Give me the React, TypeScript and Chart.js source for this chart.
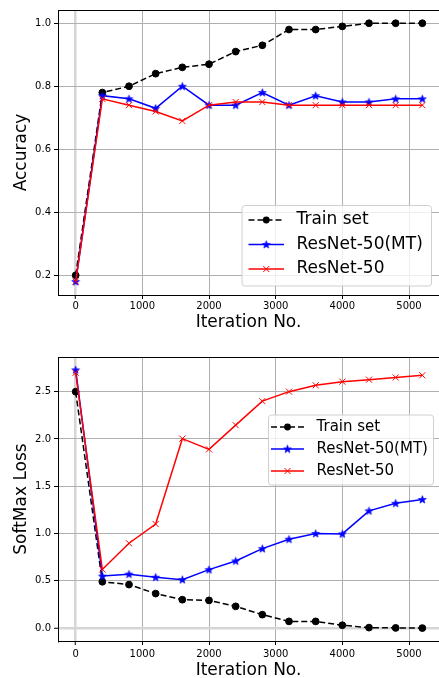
import React, { useEffect, useRef } from 'react';
import { Chart, registerables } from 'chart.js';

Chart.register(...registerables);
Chart.defaults.font.family = '"DejaVu Sans", sans-serif';

// ---------- data ----------
const iterations = [0, 400, 800, 1200, 1600, 2000, 2400, 2800, 3200, 3600, 4000, 4400, 4800, 5200];
const seriesNames = ['Train set', 'ResNet-50(MT)', 'ResNet-50'];

const accTrain = [0.2, 0.78, 0.8, 0.84, 0.86, 0.87, 0.91, 0.93, 0.98, 0.98, 0.99, 1.0, 1.0, 1.0];
const accMT = [0.18, 0.77, 0.76, 0.73, 0.8, 0.74, 0.74, 0.78, 0.74, 0.77, 0.75, 0.75, 0.76, 0.76];
const accRes = [0.18, 0.76, 0.74, 0.72, 0.69, 0.74, 0.75, 0.75, 0.74, 0.74, 0.74, 0.74, 0.74, 0.74];

const lossTrain = [2.5, 0.49, 0.46, 0.365, 0.3, 0.293, 0.23, 0.142, 0.071, 0.071, 0.03, 0.005, 0.002, 0.0];
const lossMT = [2.73, 0.55, 0.57, 0.537, 0.512, 0.618, 0.71, 0.84, 0.94, 1.0, 0.996, 1.24, 1.32, 1.36];
const lossRes = [2.7, 0.62, 0.897, 1.1, 2.003, 1.89, 2.146, 2.4, 2.5, 2.567, 2.606, 2.627, 2.65, 2.673];

const xTicks = [0, 1000, 2000, 3000, 4000, 5000];
const xTickLabels = ['0', '1000', '2000', '3000', '4000', '5000'];
const accTicks = [0.2, 0.4, 0.6, 0.8, 1.0];
const accTickLabels = ['0.2', '0.4', '0.6', '0.8', '1.0'];
const lossTicks = [0, 0.5, 1.0, 1.5, 2.0, 2.5];
const lossTickLabels = ['0.0', '0.5', '1.0', '1.5', '2.0', '2.5'];

const xTitle = 'Iteration No.';
const accTitle = 'Accuracy';
const lossTitle = 'SoftMax Loss';

// ---------- styling helpers ----------
function makeStar(color: string, size = 11, outer = 4.1, inner = 1.7) {
  const c = document.createElement('canvas');
  c.width = size;
  c.height = size;
  const g = c.getContext('2d')!;
  g.beginPath();
  for (let i = 0; i < 10; i++) {
    const r = i % 2 === 0 ? outer : inner;
    const a = -Math.PI / 2 + (i * Math.PI) / 5;
    const x = size / 2 + r * Math.cos(a);
    const y = size / 2 + 0.3 + r * Math.sin(a);
    if (i === 0) g.moveTo(x, y);
    else g.lineTo(x, y);
  }
  g.closePath();
  g.fillStyle = color;
  g.fill();
  g.strokeStyle = color;
  g.lineWidth = 0.7;
  g.stroke();
  return c;
}

function pts(ys: number[]) {
  return iterations.map((x, i) => ({ x, y: ys[i] }));
}

function makeDatasets(train: number[], mt: number[], res: number[], star: HTMLCanvasElement) {
  return [
    {
      label: seriesNames[0],
      data: pts(train),
      borderColor: '#000',
      backgroundColor: '#000',
      borderWidth: 1.5,
      borderDash: [6, 3],
      pointStyle: 'circle',
      pointRadius: 3.4,
      pointBackgroundColor: '#000',
      pointBorderColor: '#000',
      pointBorderWidth: 1,
      order: 3,
    },
    {
      label: seriesNames[1],
      data: pts(mt),
      borderColor: '#0000ff',
      backgroundColor: '#0000ff',
      borderWidth: 1.5,
      pointStyle: star,
      pointRadius: 4,
      order: 2,
    },
    {
      label: seriesNames[2],
      data: pts(res),
      borderColor: '#ff0000',
      backgroundColor: '#ff0000',
      borderWidth: 1.5,
      pointStyle: 'crossRot',
      pointRadius: 4.3,
      pointBorderColor: '#ff0000',
      pointBorderWidth: 1,
      order: 1,
    },
  ];
}

const topSpine = {
  id: 'topSpine',
  afterDatasetsDraw(chart: any) {
    const { ctx, chartArea } = chart;
    ctx.save();
    ctx.strokeStyle = '#000';
    ctx.lineWidth = 1;
    ctx.beginPath();
    ctx.moveTo(chartArea.left, Math.round(chartArea.top) + 0.5);
    ctx.lineTo(chartArea.right, Math.round(chartArea.top) + 0.5);
    ctx.stroke();
    ctx.restore();
  },
};

type LegendCfg = {
  box: { x: number; y: number; w: number; h: number };
  rows: number[];
  lineX0: number;
  lineX1: number;
  textX: number;
  fontSize: number;
};

function makeLegend(cfg: LegendCfg, star: HTMLCanvasElement) {
  return {
    id: 'customLegend',
    afterDraw(chart: any) {
      const { ctx } = chart;
      const { x, y, w, h } = cfg.box;
      const r = 3;
      ctx.save();
      ctx.beginPath();
      ctx.moveTo(x + r, y);
      ctx.lineTo(x + w - r, y);
      ctx.arcTo(x + w, y, x + w, y + r, r);
      ctx.lineTo(x + w, y + h - r);
      ctx.arcTo(x + w, y + h, x + w - r, y + h, r);
      ctx.lineTo(x + r, y + h);
      ctx.arcTo(x, y + h, x, y + h - r, r);
      ctx.lineTo(x, y + r);
      ctx.arcTo(x, y, x + r, y, r);
      ctx.closePath();
      ctx.fillStyle = 'rgba(255,255,255,0.8)';
      ctx.fill();
      ctx.strokeStyle = '#d0d0d0';
      ctx.lineWidth = 1;
      ctx.stroke();

      const ds = chart.data.datasets;
      const mx = (cfg.lineX0 + cfg.lineX1) / 2;
      ds.forEach((d: any, i: number) => {
        const ry = cfg.rows[i];
        ctx.save();
        ctx.strokeStyle = d.borderColor;
        ctx.lineWidth = 1.5;
        ctx.setLineDash(d.borderDash || []);
        ctx.beginPath();
        ctx.moveTo(cfg.lineX0, ry);
        ctx.lineTo(cfg.lineX1, ry);
        ctx.stroke();
        ctx.restore();
        // marker
        ctx.save();
        if (i === 0) {
          ctx.fillStyle = '#000';
          ctx.beginPath();
          ctx.arc(mx, ry, 3.4, 0, Math.PI * 2);
          ctx.fill();
        } else if (i === 1) {
          ctx.drawImage(star, mx - star.width / 2, ry - star.height / 2);
        } else {
          ctx.strokeStyle = d.borderColor;
          ctx.lineWidth = 1;
          const s = 3;
          ctx.beginPath();
          ctx.moveTo(mx - s, ry - s);
          ctx.lineTo(mx + s, ry + s);
          ctx.moveTo(mx - s, ry + s);
          ctx.lineTo(mx + s, ry - s);
          ctx.stroke();
        }
        ctx.restore();
        ctx.save();
        ctx.fillStyle = '#000';
        ctx.font = `${cfg.fontSize}px "DejaVu Sans", sans-serif`;
        ctx.textBaseline = 'middle';
        ctx.textAlign = 'left';
        ctx.fillText(d.label, cfg.textX, ry);
        ctx.restore();
      });
      ctx.restore();
    },
  };
}

type ChartCfg = {
  train: number[];
  mt: number[];
  res: number[];
  yMin: number;
  yMax: number;
  yTicks: number[];
  yTickLabels: string[];
  yTitle: string;
  padTop: number;
  xAxisHeight: number;
  xTickPad: number;
  xTitlePad: number;
  legend: LegendCfg;
};

function buildConfig(c: ChartCfg): any {
  const star = makeStar('#0000ff');
  const gridColor = (ctx: any) => (ctx.tick && ctx.tick.value === 0 ? '#d6d6d6' : '#b0b0b0');
  const gridWidth = (ctx: any) => (ctx.tick && ctx.tick.value === 0 ? 2.5 : 1);
  return {
    type: 'line',
    data: { datasets: makeDatasets(c.train, c.mt, c.res, star) },
    options: {
      responsive: false,
      animation: false,
      devicePixelRatio: 1,
      layout: { autoPadding: false, padding: { top: c.padTop, left: 0, right: 0, bottom: 0 } },
      plugins: { legend: { display: false }, tooltip: { enabled: false } },
      scales: {
        x: {
          type: 'linear',
          position: 'bottom',
          min: -265,
          max: 5450,
          afterBuildTicks: (a: any) => {
            a.ticks = xTicks.map((v) => ({ value: v }));
          },
          afterFit: (s: any) => {
            s.height = c.xAxisHeight;
            s.paddingLeft = 0;
            s.paddingRight = 0;
          },
          ticks: {
            callback: (_v: any, i: number) => xTickLabels[i],
            font: { size: 10 },
            color: '#000',
            padding: c.xTickPad,
            maxRotation: 0,
            autoSkip: false,
          },
          grid: {
            color: gridColor,
            lineWidth: gridWidth,
            tickColor: '#000',
            tickLength: 4,
            tickWidth: 1,
          },
          border: { color: '#000', width: 1 },
          title: {
            display: true,
            text: xTitle,
            font: { size: 17 },
            color: '#000',
            padding: { top: 0, bottom: c.xTitlePad },
          },
        },
        y: {
          type: 'linear',
          position: 'left',
          min: c.yMin,
          max: c.yMax,
          afterBuildTicks: (a: any) => {
            a.ticks = c.yTicks.map((v) => ({ value: v }));
          },
          afterFit: (s: any) => {
            s.width = 58;
            s.paddingTop = 0;
            s.paddingBottom = 0;
          },
          ticks: {
            callback: (_v: any, i: number) => c.yTickLabels[i],
            font: { size: 10 },
            color: '#000',
            padding: 3,
            autoSkip: false,
          },
          grid: {
            color: gridColor,
            lineWidth: gridWidth,
            tickColor: '#000',
            tickLength: 4,
            tickWidth: 1,
          },
          border: { color: '#000', width: 1 },
          title: {
            display: true,
            text: c.yTitle,
            font: { size: 17 },
            color: '#000',
            padding: { top: 11, bottom: 0 },
          },
        },
      },
    },
    plugins: [topSpine, makeLegend(c.legend, star)],
  };
}

function ChartCanvas({ cfg, top, height }: { cfg: ChartCfg; top: number; height: number }) {
  const ref = useRef<HTMLCanvasElement>(null);
  useEffect(() => {
    const chart = new Chart(ref.current!, buildConfig(cfg));
    return () => chart.destroy();
  }, []);
  return (
    <canvas
      ref={ref}
      width={439}
      height={height}
      style={{ position: 'absolute', left: 0, top, width: 439, height }}
    />
  );
}

const accCfg: ChartCfg = {
  train: accTrain,
  mt: accMT,
  res: accRes,
  yMin: 0.1375,
  yMax: 1.042,
  yTicks: accTicks,
  yTickLabels: accTickLabels,
  yTitle: accTitle,
  padTop: 10,
  xAxisHeight: 44,
  xTickPad: 1,
  xTitlePad: 6,
  legend: {
    box: { x: 242, y: 205.5, w: 189.5, h: 80.5 },
    rows: [220, 244.5, 269],
    lineX0: 248.5,
    lineX1: 284,
    textX: 296.5,
    fontSize: 17,
  },
};

const lossCfg: ChartCfg = {
  train: lossTrain,
  mt: lossMT,
  res: lossRes,
  yMin: -0.1365,
  yMax: 2.8665,
  yTicks: lossTicks,
  yTickLabels: lossTickLabels,
  yTitle: lossTitle,
  padTop: 18,
  xAxisHeight: 37,
  xTickPad: 3,
  xTitlePad: -3,
  legend: {
    box: { x: 268.5, y: 76, w: 165, h: 70 },
    rows: [88, 110, 132],
    lineX0: 271,
    lineX1: 304,
    textX: 316.5,
    fontSize: 15,
  },
};

export default function App() {
  return (
    <div
      style={{
        position: 'absolute',
        left: 0,
        top: 0,
        width: 439,
        height: 678,
        overflow: 'hidden',
        background: '#fff',
      }}
    >
      <ChartCanvas cfg={accCfg} top={0} height={339} />
      <ChartCanvas cfg={lossCfg} top={339} height={339} />
    </div>
  );
}
